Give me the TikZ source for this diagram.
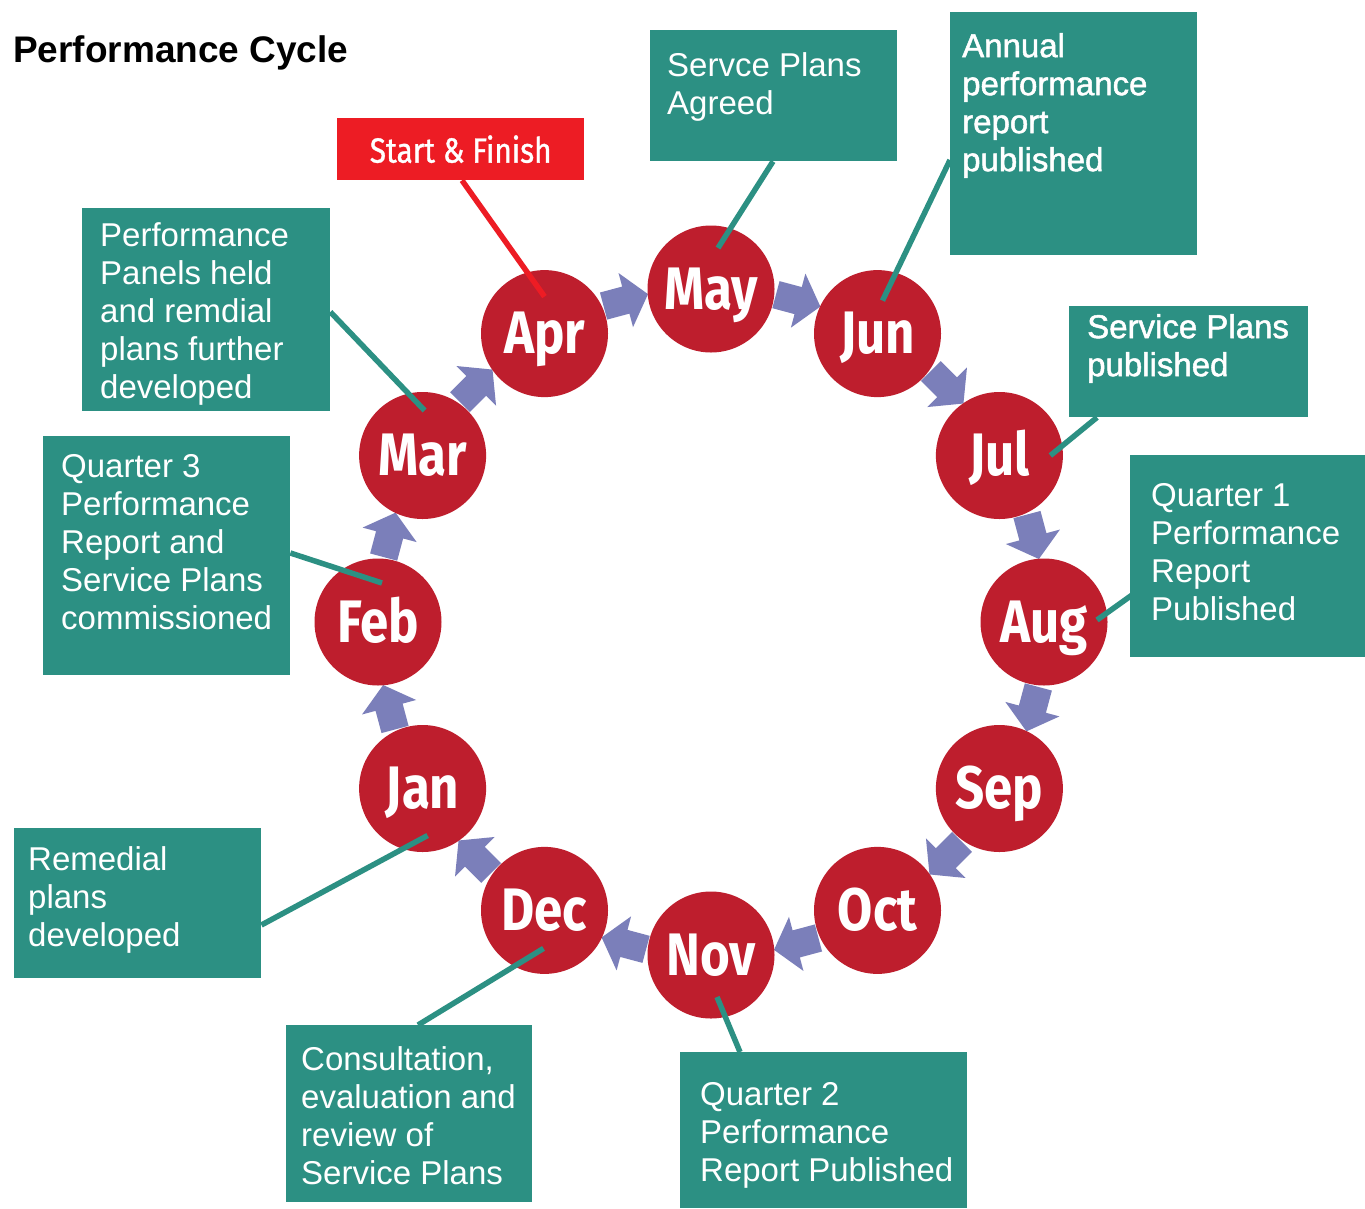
\documentclass[tikz,border=0pt]{standalone}
\usepackage{fontspec}
\setmainfont{Liberation Sans}
\newfontfamily\monthfont[FakeStretch=0.85]{Fira Sans}
\newfontfamily\startfont[FakeStretch=0.85,FakeBold=1]{Fira Sans}
\newfontfamily\heavyfont[FakeBold=1.5]{Liberation Sans}
\usetikzlibrary{calc}
\definecolor{tealbox}{RGB}{44,144,131}
\definecolor{monthred}{RGB}{190,30,45}
\definecolor{startred}{RGB}{237,28,36}
\definecolor{arrowblue}{RGB}{123,127,186}
\tikzset{
  month/.style={circle, fill=monthred, minimum size=127pt, inner sep=0pt, text=white,
    font=\monthfont\bfseries\fontsize{60}{60}\selectfont, text height=40pt, text depth=0pt},
  tbox/.style={rectangle, fill=tealbox, anchor=north west, inner sep=0pt},
  boxtext/.style={anchor=north west, inner sep=0pt, text=white, align=left,
    font=\fontsize{33}{38}\selectfont},
  heavytext/.style={boxtext, font=\heavyfont\fontsize{33}{38}\selectfont},
  link/.style={draw=tealbox, line width=5.5pt},
  startlink/.style={draw=startred, line width=5.5pt},
  cyclearrow/.style={fill=arrowblue},
}
\begin{document}
\begin{tikzpicture}[x=1pt,y=-1pt]
\useasboundingbox[fill=white] (0,0) rectangle (1365,1208);
\coordinate (cen) at (711,622);

% title
\node[anchor=base west, inner sep=0pt, font=\bfseries\fontsize{37}{37}\selectfont] (title) at (13,62) {Performance Cycle};

% cycle arrows
\foreach \a [evaluate=\a as \na using -\a, evaluate=\a as \rot using \a-90] in {105,75,45,15,-15,-45,-75,-105,-135,-165,165,135}
  \fill[cyclearrow, shift={($(cen)+(\na:333)$)}, rotate=\rot]
    (-22,-14) -- (1,-14) -- (1,-28) -- (24,0) -- (1,28) -- (1,14) -- (-22,14) -- cycle;

% months
\node[month] (may) at (711,289) {May};
\node[month] (jun) at (877.5,333.6) {Jun};
\node[month] (jul) at (999.4,455.5) {Jul};
\node[month] (aug) at (1044,622) {Aug};
\node[month] (sep) at (999.4,788.5) {Sep};
\node[month] (oct) at (877.5,910.4) {Oct};
\node[month] (nov) at (711,955) {Nov};
\node[month] (dec) at (544.5,910.4) {Dec};
\node[month] (jan) at (422.6,788.5) {Jan};
\node[month] (feb) at (378,622) {Feb};
\node[month] (mar) at (422.6,455.5) {Mar};
\node[month] (apr) at (544.5,333.6) {Apr};

% boxes
\node[tbox, minimum width=247pt, minimum height=131pt] (b1) at (650,30) {};
\node[tbox, minimum width=247pt, minimum height=243pt] (b2) at (950,12) {};
\node[tbox, minimum width=239pt, minimum height=111pt] (b3) at (1069,306) {};
\node[tbox, minimum width=235pt, minimum height=202pt] (b4) at (1130,455) {};
\node[tbox, minimum width=287pt, minimum height=156pt] (b5) at (680,1052) {};
\node[tbox, minimum width=246pt, minimum height=177pt] (b6) at (286,1025) {};
\node[tbox, minimum width=247pt, minimum height=150pt] (b7) at (14,828) {};
\node[tbox, minimum width=247pt, minimum height=239pt] (b8) at (43,436) {};
\node[tbox, minimum width=248pt, minimum height=203pt] (b9) at (82,208) {};
\node[rectangle, fill=startred, anchor=north west, minimum width=247pt, minimum height=62pt,
  inner sep=0pt, text=white, font=\startfont\fontsize{35}{35}\selectfont] (start) at (337,118) {Start \& Finish};

% box texts
\node[boxtext] (t1) at (667,52) {Servce Plans\\Agreed};
\node[heavytext] (t2) at (962,33) {Annual\\performance\\report\\published};
\node[heavytext] (t3) at (1087,314) {Service Plans\\published};
\node[boxtext] (t4) at (1151,483) {Quarter 1\\Performance\\Report\\Published};
\node[boxtext] (t5) at (700,1082) {Quarter 2\\Performance\\Report Published};
\node[boxtext] (t6) at (301,1046) {Consultation,\\evaluation and\\review of\\Service Plans};
\node[boxtext] (t7) at (28,846) {Remedial\\plans\\developed};
\node[boxtext] (t8) at (61,454) {Quarter 3\\Performance\\Report and\\Service Plans\\commissioned};
\node[boxtext] (t9) at (100,222) {Performance\\Panels held\\and remdial\\plans further\\developed};

% connectors
\draw[link] ($(b1.south west)+(123,0)$) -- ($(may)+(7,-41)$);
\draw[link] ($(b2.north west)+(0,148)$) -- ($(jun)+(5,-33)$);
\draw[link] ($(b3.south west)+(28,0)$) -- ($(jul)+(51,0)$);
\draw[link] ($(b4.north west)+(2,140)$) -- ($(aug)+(53,-2)$);
\draw[link] ($(nov)+(6,42)$) -- ($(b5.north west)+(60,0)$);
\draw[link] ($(b6.north west)+(132,0)$) -- ($(dec)+(-1,38)$);
\draw[link] ($(b7.north east)+(0,97)$) -- ($(jan)+(5,47)$);
\draw[link] ($(b8.north east)+(0,117)$) -- ($(feb)+(4,-39)$);
\draw[link] ($(b9.north east)+(0,104)$) -- ($(mar)+(2,-45)$);
\draw[startlink] ($(start.south west)+(125,0)$) -- ($(apr)+(0,-37)$);
\end{tikzpicture}
\end{document}
